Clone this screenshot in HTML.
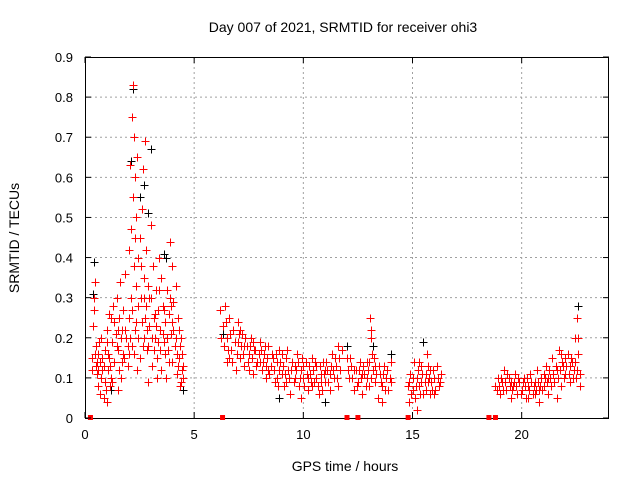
<!DOCTYPE html>
<html><head><meta charset="utf-8"><style>
body{margin:0;background:#fff;}
svg{display:block;font-family:"Liberation Sans",sans-serif;}
</style></head><body>
<svg id="c" width="640" height="480"></svg>
<script>
const xTicks=[0,5,10,15,20];
const yTicks=[0,0.1,0.2,0.3,0.4,0.5,0.6,0.7,0.8,0.9];
const yTickLabels=["0","0.1","0.2","0.3","0.4","0.5","0.6","0.7","0.8","0.9"];
const gapMarks=[0.25,6.3,12.0,12.5,14.8,18.5,18.8];
const blackPts=[[0.4,.39],[0.35,.31],[2.2,.82],[2.5,.55],[2.9,.51],[3.0,.67],[3.6,.41],[3.7,.40],[2.7,.58],[2.1,.64],[22.6,.28],[15.5,.19],[12.0,.18],[11.0,.04],[14.0,.16],[8.9,.05],[1.2,.07],[4.5,.07],[6.3,.21],[13.2,.18]];
const redA=[[0.3,.15],[0.35,.23],[0.4,.30],[0.4,.27],[0.45,.34],[0.5,.13],[0.5,.18],[0.55,.11],[0.6,.08],[0.6,.16],[0.7,.14],[0.7,.06],[0.75,.20],[0.8,.12],[0.85,.05],[0.9,.17],[0.9,.09],[1.0,.04],[1.0,.22],[1.05,.12],[1.1,.15],[1.15,.08],[1.2,.25],[1.25,.19],[1.3,.28],[1.35,.14],[1.4,.21],[1.45,.30],[1.5,.17],[1.55,.25],[1.6,.34],[1.65,.10],[1.7,.22],[1.75,.27],[1.8,.15],[1.85,.36],[1.9,.20],[1.95,.13],[2.0,.42],[2.0,.25],[2.05,.63],[2.1,.47],[2.1,.30],[2.15,.75],[2.15,.18],[2.2,.83],[2.2,.55],[2.25,.70],[2.25,.38],[2.3,.60],[2.3,.22],[2.35,.50],[2.35,.33],[2.4,.65],[2.45,.28],[2.5,.45],[2.5,.15],[2.55,.38],[2.6,.52],[2.6,.24],[2.65,.62],[2.7,.35],[2.7,.20],[2.75,.69],[2.8,.42],[2.8,.28],[2.85,.17],[2.9,.33],[2.95,.23],[3.0,.48],[3.0,.30],[3.05,.13],[3.1,.38],[3.15,.25],[3.2,.20],[3.25,.32],[3.3,.15],[3.35,.27],[3.4,.40],[3.45,.22],[3.5,.35],[3.5,.12],[3.55,.28],[3.6,.19],[3.65,.24],[3.7,.10],[3.75,.32],[3.8,.17],[3.85,.26],[3.9,.44],[3.95,.21],[4.0,.14],[4.0,.38],[4.05,.29],[4.1,.18],[4.15,.33],[4.2,.11],[4.25,.25],[4.3,.15],[4.35,.08],[4.4,.20],[4.45,.12],[4.5,.10],[1.2,.10],[1.5,.07],[2.4,.12],[2.9,.09],[3.3,.10],[4.2,.16],[4.4,.09],[1.0,.19],[0.8,.15]];
const redA2=[[0.3,.12],[0.45,.16],[0.55,.14],[0.65,.19],[0.75,.10],[0.85,.13],[0.95,.07],[1.05,.16],[1.15,.13],[1.25,.09],[1.35,.24],[1.45,.18],[1.55,.12],[1.65,.20],[1.75,.16],[1.85,.22],[1.95,.18],[2.05,.20],[2.15,.27],[2.25,.16],[2.35,.24],[2.45,.20],[2.55,.30],[2.65,.18],[2.75,.25],[2.85,.22],[2.95,.30],[3.05,.20],[3.15,.17],[3.25,.23],[3.35,.19],[3.45,.17],[3.55,.21],[3.65,.16],[3.75,.20],[3.85,.14],[3.95,.28],[4.05,.22],[4.15,.20],[4.25,.13],[4.35,.18],[4.45,.16],[4.5,.13],[3.9,.30],[4.0,.24],[1.5,.22],[1.7,.14],[2.0,.16],[2.3,.45],[2.45,.40],[2.7,.30],[3.2,.26],[3.4,.32],[1.1,.26],[0.6,.12],[2.9,.18],[3.6,.27],[4.3,.22]];
const redB=[[6.2,.27],[6.3,.23],[6.35,.18],[6.4,.28],[6.5,.20],[6.5,.14],[6.6,.25],[6.7,.17],[6.8,.22],[6.9,.12],[7.0,.19],[7.1,.15],[7.2,.21],[7.3,.13],[7.4,.18],[7.5,.16],[7.6,.20],[7.7,.11],[7.8,.17],[7.9,.14],[8.0,.19],[8.1,.12],[8.2,.16],[8.3,.10],[8.4,.18],[8.5,.13],[8.6,.15],[8.7,.09],[8.8,.14],[8.9,.17],[9.0,.11],[9.1,.08],[9.2,.15],[9.3,.12],[9.4,.06],[9.5,.14],[9.6,.10],[9.7,.16],[9.8,.08],[9.9,.12],[10.0,.10],[10.1,.14],[10.2,.07],[10.3,.11],[10.4,.15],[10.5,.09],[10.6,.13],[10.7,.06],[10.8,.11],[10.9,.14],[11.0,.09],[11.1,.12],[11.2,.07],[11.3,.16],[11.4,.10],[11.5,.13],[11.6,.18],[11.7,.12],[6.6,.15],[7.0,.24],[7.3,.18],[7.7,.19],[8.0,.14],[8.4,.12],[8.8,.10],[9.2,.09],[9.6,.13],[10.0,.13],[10.4,.08],[10.8,.09],[11.2,.11],[11.6,.08],[7.5,.12],[8.9,.12],[9.9,.05],[10.6,.10]];
const redB2=[[6.25,.20],[6.45,.24],[6.55,.17],[6.65,.21],[6.75,.14],[6.85,.19],[6.95,.16],[7.05,.21],[7.15,.18],[7.25,.16],[7.35,.20],[7.45,.14],[7.55,.18],[7.65,.15],[7.75,.17],[7.85,.13],[7.95,.16],[8.05,.17],[8.15,.14],[8.25,.18],[8.35,.15],[8.45,.11],[8.55,.16],[8.65,.12],[8.75,.16],[8.85,.08],[8.95,.14],[9.05,.13],[9.15,.11],[9.25,.17],[9.35,.10],[9.45,.12],[9.55,.09],[9.65,.12],[9.75,.14],[9.85,.10],[9.95,.15],[10.05,.08],[10.15,.11],[10.25,.13],[10.35,.09],[10.45,.12],[10.55,.14],[10.65,.08],[10.75,.13],[10.85,.07],[10.95,.11],[11.05,.14],[11.15,.09],[11.25,.13],[11.35,.12],[11.45,.15],[11.55,.10],[11.65,.15],[11.75,.17],[7.1,.22],[8.3,.13],[9.0,.16],[10.2,.10],[11.0,.12]];
const redC=[[12.0,.15],[12.1,.10],[12.2,.13],[12.3,.07],[12.4,.12],[12.5,.09],[12.6,.14],[12.7,.06],[12.8,.11],[12.9,.14],[13.0,.08],[13.05,.25],[13.1,.20],[13.15,.16],[13.2,.12],[13.3,.09],[13.4,.05],[13.5,.11],[13.6,.08],[13.7,.13],[13.8,.10],[13.9,.07],[14.0,.14],[12.3,.12],[12.9,.10],[13.3,.13],[13.6,.04]];
const redC2=[[12.05,.12],[12.15,.15],[12.25,.10],[12.45,.08],[12.55,.12],[12.65,.10],[12.75,.13],[12.85,.08],[12.95,.12],[13.0,.14],[13.1,.10],[13.25,.15],[13.35,.11],[13.45,.13],[13.55,.09],[13.65,.11],[13.75,.07],[13.85,.12],[13.95,.10],[14.0,.09],[13.1,.22],[12.7,.11]];
const redD=[[14.8,.08],[14.85,.04],[14.9,.11],[15.0,.07],[15.05,.14],[15.1,.05],[15.2,.10],[15.3,.08],[15.4,.13],[15.5,.06],[15.6,.11],[15.65,.16],[15.7,.09],[15.8,.12],[15.9,.07],[16.0,.10],[16.1,.13],[16.2,.08],[16.3,.11],[15.2,.02],[15.4,.09],[15.8,.06]];
const redD2=[[14.85,.09],[14.95,.06],[15.0,.10],[15.15,.08],[15.25,.12],[15.35,.06],[15.45,.11],[15.55,.09],[15.6,.07],[15.75,.10],[15.85,.09],[15.95,.12],[16.05,.07],[16.15,.10],[16.25,.09],[15.3,.14],[15.7,.13],[16.0,.06]];
const redE=[[18.8,.08],[18.9,.10],[19.0,.06],[19.1,.09],[19.2,.12],[19.3,.07],[19.4,.10],[19.5,.05],[19.6,.08],[19.7,.11],[19.8,.06],[19.9,.09],[20.0,.07],[20.1,.10],[20.2,.05],[20.3,.08],[20.4,.11],[20.5,.06],[20.6,.09],[20.7,.12],[20.8,.07],[20.9,.10],[21.0,.08],[21.1,.13],[21.2,.06],[21.3,.10],[21.4,.15],[21.5,.09],[21.6,.12],[21.7,.17],[21.8,.08],[21.9,.13],[22.0,.11],[22.1,.16],[22.2,.09],[22.3,.14],[22.4,.12],[22.45,.20],[22.5,.10],[22.55,.25],[22.6,.16],[22.65,.08],[19.5,.09],[20.3,.05],[21.0,.11],[21.6,.05],[22.2,.13],[20.8,.04]];
const redE2=[[18.85,.07],[18.95,.08],[19.05,.10],[19.15,.07],[19.25,.09],[19.35,.11],[19.45,.08],[19.55,.07],[19.65,.09],[19.75,.08],[19.85,.10],[19.95,.06],[20.05,.09],[20.15,.08],[20.25,.10],[20.35,.07],[20.45,.09],[20.55,.08],[20.65,.07],[20.75,.09],[20.85,.08],[20.95,.07],[21.05,.10],[21.15,.09],[21.25,.12],[21.35,.08],[21.45,.11],[21.55,.13],[21.65,.10],[21.75,.12],[21.85,.14],[21.95,.10],[22.05,.13],[22.15,.11],[22.25,.15],[22.35,.10],[22.45,.14],[22.55,.12],[22.6,.20],[22.65,.11],[21.8,.16],[22.0,.15],[21.2,.10],[20.6,.06]];

const L=85,R=609,T=57,B=418,XMAX=24,YMAX=0.9;
const sx=v=>L+(v/XMAX)*(R-L);
const sy=v=>B-(v/YMAX)*(B-T);
const svg=document.getElementById('c');
const NS='http://www.w3.org/2000/svg';
function mk(tag,attrs,parent){const e=document.createElementNS(NS,tag);for(const k in attrs)e.setAttribute(k,attrs[k]);(parent||svg).appendChild(e);return e;}

const grid=mk('g',{});


xTicks.forEach(t=>{if(t>0){const l=mk('line',{x1:sx(t),x2:sx(t),y1:T,y2:B,stroke:'#a0a0a0','stroke-dasharray':'2,3'},grid);}});
yTicks.forEach(t=>{if(t>0&&t<YMAX){const l=mk('line',{x1:L,x2:R,y1:sy(t),y2:sy(t),stroke:'#a0a0a0','stroke-dasharray':'2,3'},grid);}});

function plus(pts,color,name){
  const g=mk('g',{stroke:color,'stroke-width':1,fill:'none'});
  
  
  let d='';
  pts.forEach(p=>{const x=Math.round(sx(p[0]))+0.5,y=Math.round(sy(p[1]))+0.5;d+=`M${x-4} ${y}h8M${x} ${y-4}v8`;});
  const path=mk('path',{d:d},g);
  
  
}
plus(blackPts,'#000','srmtid-black-series');
plus(redA.concat(redA2,redB,redB2,redC,redC2,redD,redD2,redE,redE2),'#ff0000','srmtid-red-series');

const frame=mk('rect',{x:L+0.5,y:T+0.5,width:R-L-1,height:B-T,fill:'none',stroke:'#000'});



gapMarks.forEach(h=>{const r=mk('rect',{x:sx(h)-2.5,y:B-3,width:5,height:5,fill:'#ff0000'});});

xTicks.forEach(t=>{
  mk('line',{x1:sx(t),x2:sx(t),y1:B,y2:B-6,stroke:'#000'});
  mk('line',{x1:sx(t),x2:sx(t),y1:T,y2:T+6,stroke:'#000'});
  const tx=mk('text',{x:sx(t),y:B+21,'text-anchor':'middle','font-size':13});
  tx.textContent=t;
  
  
});
yTicks.forEach((t,i)=>{
  mk('line',{x1:L,x2:L+6,y1:sy(t),y2:sy(t),stroke:'#000'});
  mk('line',{x1:R,x2:R-6,y1:sy(t),y2:sy(t),stroke:'#000'});
  const tx=mk('text',{x:L-12,y:sy(t)+5,'text-anchor':'end','font-size':13});
  tx.textContent=yTickLabels[i];
  
  
});
const title=mk('text',{x:343,y:32,'text-anchor':'middle','font-size':14});
title.textContent='Day 007 of 2021, SRMTID for receiver ohi3';


const xt=mk('text',{x:345,y:471,'text-anchor':'middle','font-size':14});
xt.textContent='GPS time / hours';


const yt=mk('text',{x:19,y:238,'text-anchor':'middle','font-size':14,transform:'rotate(-90 19 238)'});
yt.textContent='SRMTID / TECUs';


</script>
</body></html>
